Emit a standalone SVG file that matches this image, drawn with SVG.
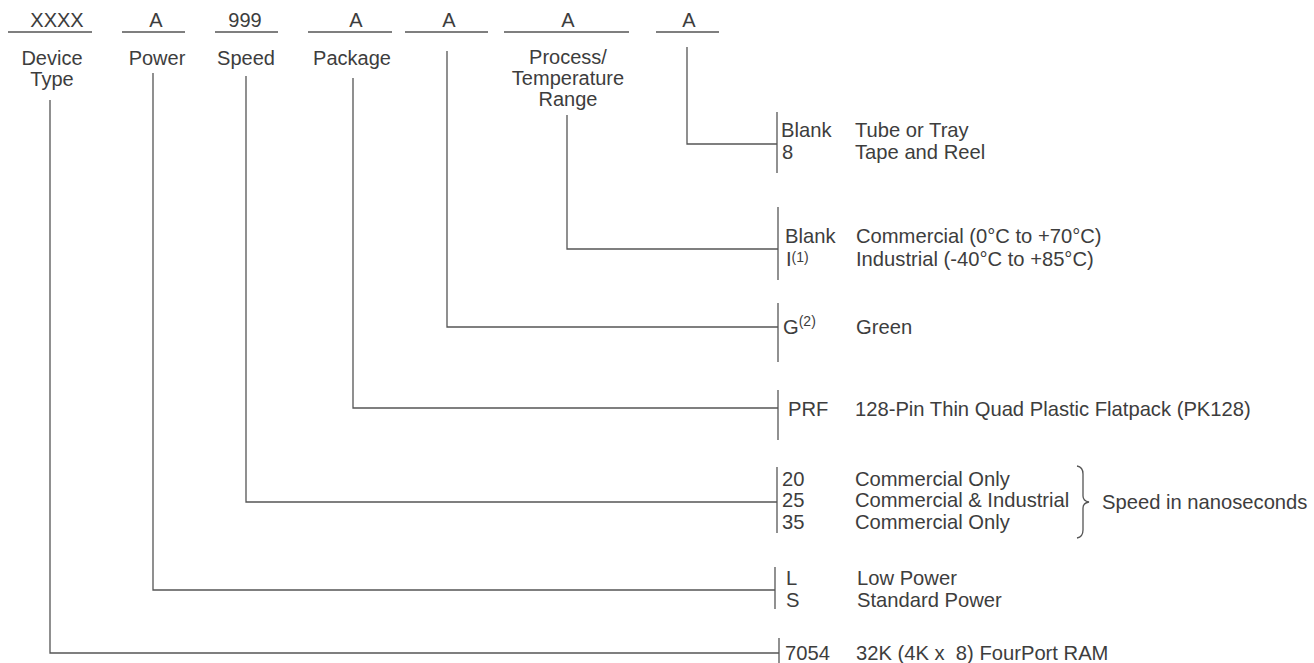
<svg xmlns="http://www.w3.org/2000/svg" width="1314" height="663" viewBox="0 0 1314 663">
<style>
text{font-family:"Liberation Sans",Arial,sans-serif;font-size:20px;fill:#3d3d3d}
.b{font-size:20.2px}
.h{text-anchor:middle}
.sup{font-size:14px}
line,path{stroke:#555;stroke-width:1.3;fill:none}
</style>
<rect width="1314" height="663" fill="#fff"/>
<g id="fields">
<g id="f-device"><text class="h" x="57" y="27">XXXX</text><line x1="8" y1="32" x2="92" y2="32"/><text class="h" x="52" y="65">Device</text><text class="h" x="52" y="86">Type</text></g>
<g id="f-power"><text class="h" x="156" y="27">A</text><line x1="122" y1="32" x2="185" y2="32"/><text class="h" x="157" y="65">Power</text></g>
<g id="f-speed"><text class="h" x="245" y="27">999</text><line x1="215" y1="32" x2="278" y2="32"/><text class="h" x="246" y="65">Speed</text></g>
<g id="f-package"><text class="h" x="356" y="27">A</text><line x1="308" y1="32" x2="392" y2="32"/><text class="h" x="352" y="65">Package</text></g>
<g id="f-green"><text class="h" x="449" y="27">A</text><line x1="405" y1="32" x2="488" y2="32"/></g>
<g id="f-process"><text class="h" x="568" y="27">A</text><line x1="504" y1="32" x2="629" y2="32"/><text class="h" x="568" y="64">Process/</text><text class="h" x="568" y="85">Temperature</text><text class="h" x="568" y="106">Range</text></g>
<g id="f-tape"><text class="h" x="689" y="27">A</text><line x1="656" y1="32" x2="719" y2="32"/></g>
</g>
<g id="connectors">
<path d="M687 47V144H777"/>
<path d="M567 115V249H778"/>
<path d="M447 51V327H778"/>
<path d="M353 78V408H778"/>
<path d="M246 76V502H777"/>
<path d="M153 73V590H775"/>
<path d="M50 100V653H779"/>
</g>
<g id="opt-tape"><line x1="777" y1="112" x2="777" y2="173"/><text class="b" x="781" y="137">Blank</text><text class="b" x="855" y="137">Tube or Tray</text><text class="b" x="782" y="159">8</text><text class="b" x="855" y="159">Tape and Reel</text></g>
<g id="opt-process"><line x1="778" y1="207" x2="778" y2="280"/><text class="b" x="785" y="243">Blank</text><text class="b" x="856" y="243">Commercial (0°C to +70°C)</text><text class="b" x="786" y="266">I<tspan class="sup" dy="-4">(1)</tspan></text><text class="b" x="856" y="266">Industrial (-40°C to +85°C)</text></g>
<g id="opt-green"><line x1="778" y1="303" x2="778" y2="362"/><text class="b" x="783" y="334">G<tspan class="sup" dy="-8">(2)</tspan></text><text class="b" x="856" y="334">Green</text></g>
<g id="opt-package"><line x1="778" y1="390" x2="778" y2="440"/><text class="b" x="788" y="416">PRF</text><text class="b" x="855" y="416">128-Pin Thin Quad Plastic Flatpack (PK128)</text></g>
<g id="opt-speed"><line x1="777" y1="467" x2="777" y2="533"/><text class="b" x="782" y="486">20</text><text class="b" x="855" y="486">Commercial Only</text><text class="b" x="782" y="507">25</text><text class="b" x="855" y="507">Commercial &amp; Industrial</text><text class="b" x="782" y="529">35</text><text class="b" x="855" y="529">Commercial Only</text><path d="M1077 466Q1083 467 1083 474V496Q1083 501 1089 502Q1083 503 1083 508V530Q1083 537 1077 538"/><text class="b" x="1102" y="509">Speed in nanoseconds</text></g>
<g id="opt-power"><line x1="775" y1="567" x2="775" y2="609"/><text class="b" x="786" y="585">L</text><text class="b" x="857" y="585">Low Power</text><text class="b" x="786" y="607">S</text><text class="b" x="857" y="607">Standard Power</text></g>
<g id="opt-device"><line x1="779" y1="638" x2="779" y2="663"/><text class="b" x="785" y="660">7054</text><text class="b" x="856" y="660" xml:space="preserve">32K (4K x  8) FourPort RAM</text></g>
</svg>
